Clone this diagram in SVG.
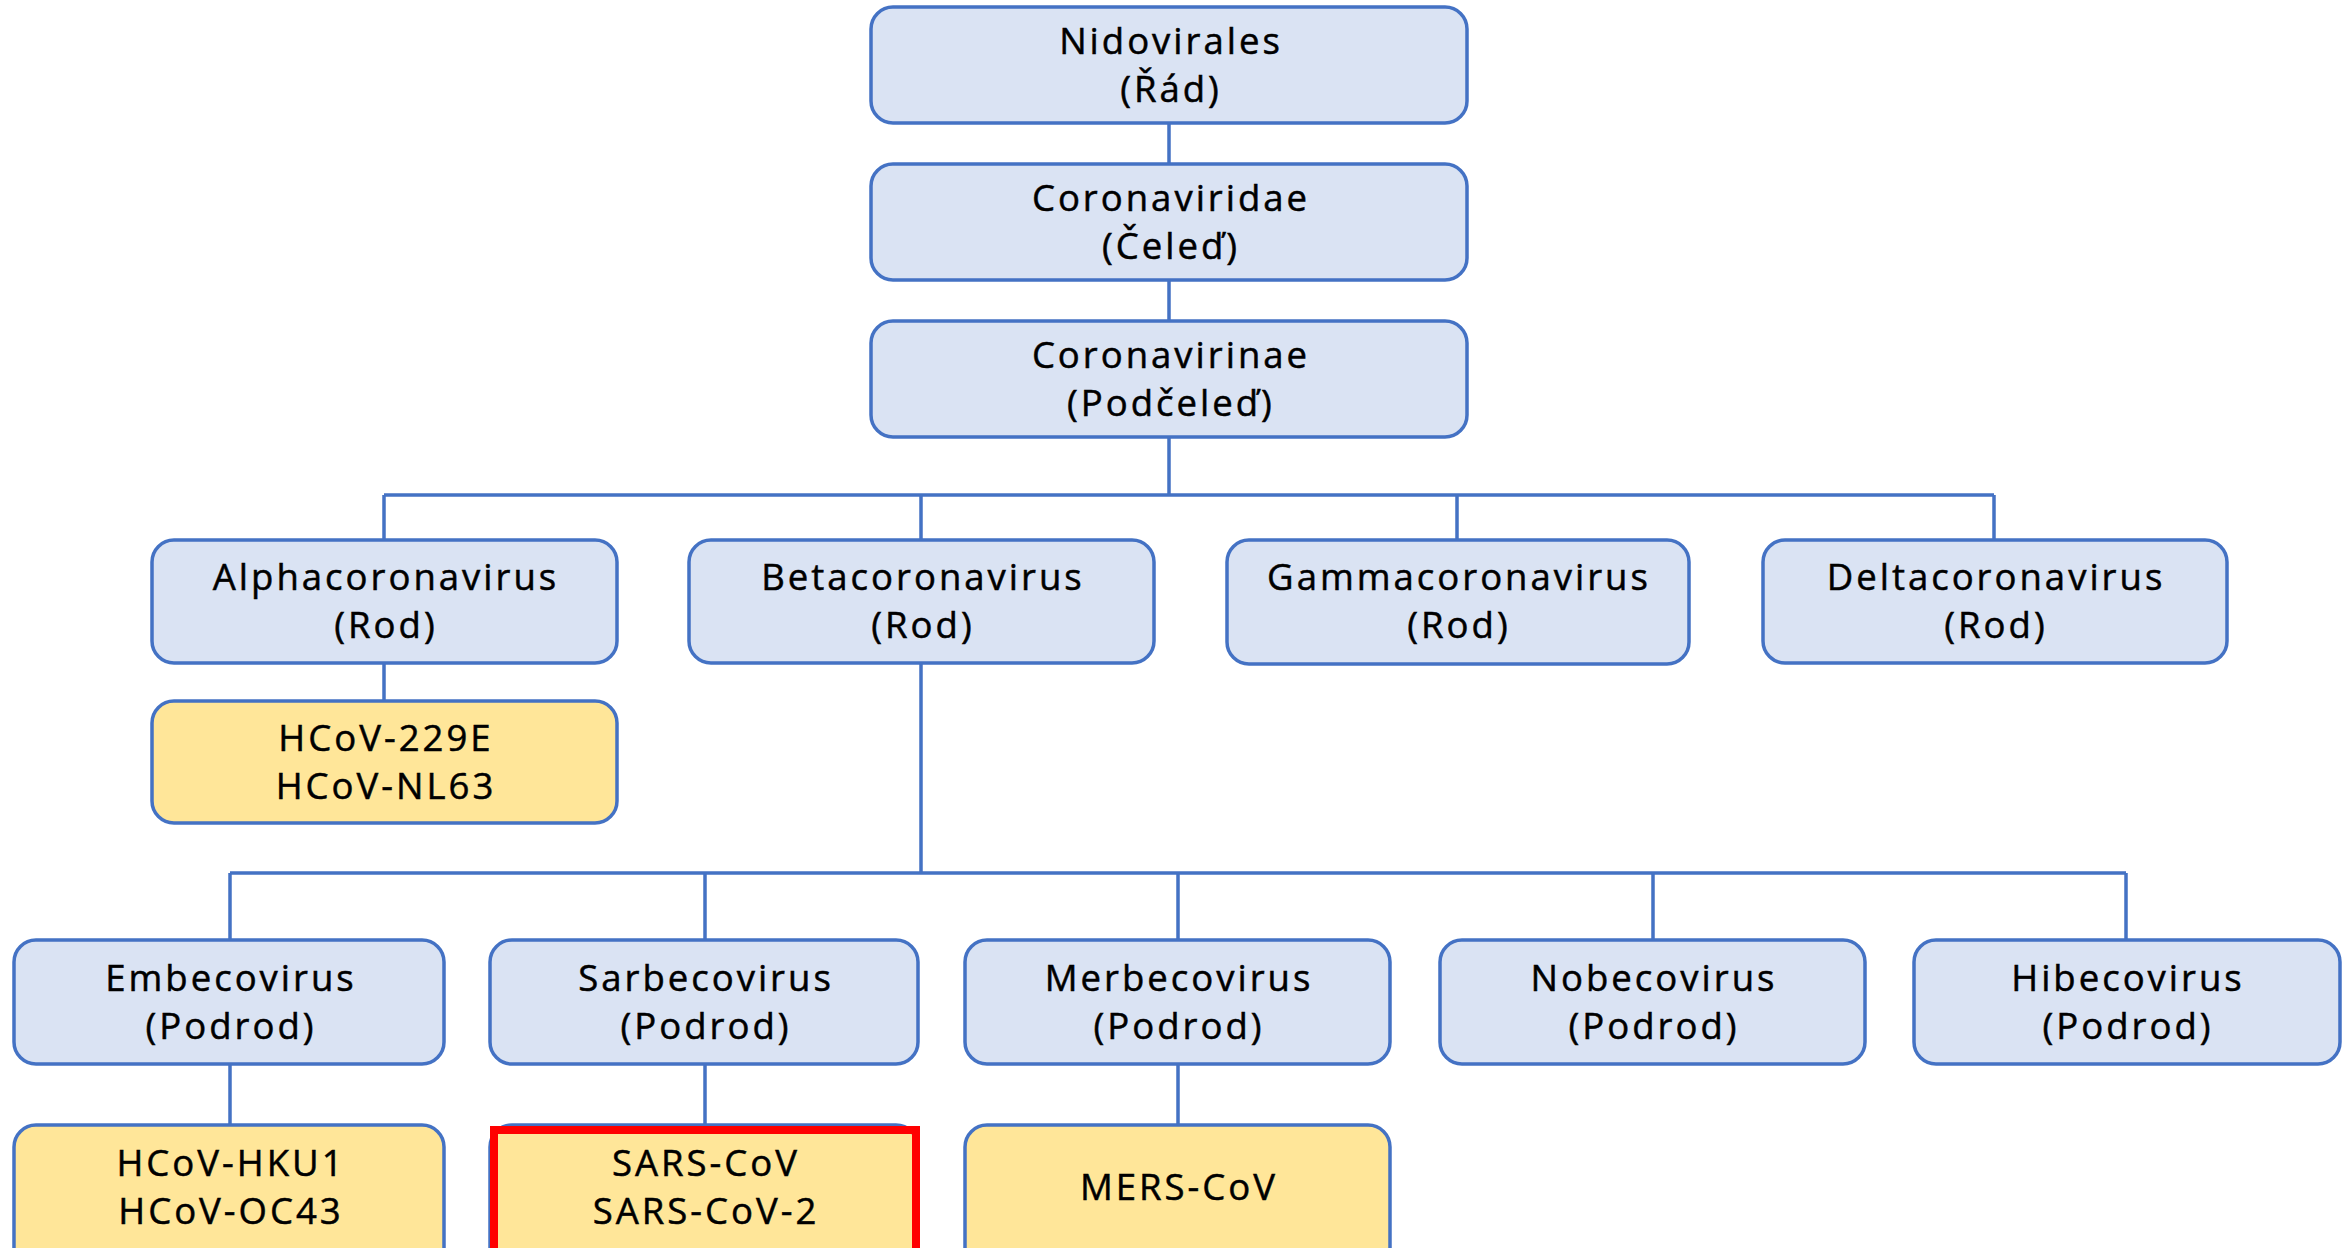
<svg xmlns="http://www.w3.org/2000/svg" width="2351" height="1248" viewBox="0 0 2351 1248">
<style>
.b{fill:#DAE3F3;stroke:#4472C4;stroke-width:3.5}
.y{fill:#FFE699;stroke:#4472C4;stroke-width:3.5}
.c{fill:none;stroke:#4472C4;stroke-width:3.5}
text{font-family:"Open Sans","DejaVu Sans",sans-serif;font-size:36.5px;letter-spacing:3px;text-anchor:middle;fill:#000;stroke:#000;stroke-width:0.5}
</style>
<rect width="2351" height="1248" fill="#fff"/>
<g id="connectors">
<path class="c" d="M1169 123V164M1169 280V321M1169 437V495M384 495H1994M384 495V540M921 495V540M1457 495V540M1994 495V540M384 663V701M921 663V873M230 873H2126M230 873V940M705 873V940M1178 873V940M1653 873V940M2126 873V940M230 1064V1125M705 1064V1125M1178 1064V1125"/>
</g>
<g id="nidovirales"><rect class="b" x="871" y="7" width="596" height="116" rx="22"/><text x="1171" y="54">Nidovirales</text><text x="1171" y="102">(Řád)</text></g>
<g id="coronaviridae"><rect class="b" x="871" y="164" width="596" height="116" rx="22"/><text x="1171" y="211">Coronaviridae</text><text x="1171" y="259">(Čeleď)</text></g>
<g id="coronavirinae"><rect class="b" x="871" y="321" width="596" height="116" rx="22"/><text x="1171" y="368">Coronavirinae</text><text x="1171" y="416">(Podčeleď)</text></g>
<g id="alpha"><rect class="b" x="152" y="540" width="465" height="123" rx="22"/><text x="386" y="590">Alphacoronavirus</text><text x="386" y="638">(Rod)</text></g>
<g id="beta"><rect class="b" x="689" y="540" width="465" height="123" rx="22"/><text x="923" y="590">Betacoronavirus</text><text x="923" y="638">(Rod)</text></g>
<g id="gamma"><rect class="b" x="1227" y="540" width="462" height="124" rx="22"/><text x="1459" y="590">Gammacoronavirus</text><text x="1459" y="638">(Rod)</text></g>
<g id="delta"><rect class="b" x="1763" y="540" width="464" height="123" rx="22"/><text x="1996" y="590">Deltacoronavirus</text><text x="1996" y="638">(Rod)</text></g>
<g id="alpha-species"><rect class="y" x="152" y="701" width="465" height="122" rx="22"/><text x="386" y="751">HCoV-229E</text><text x="386" y="799">HCoV-NL63</text></g>
<g id="embeco"><rect class="b" x="14" y="940" width="430" height="124" rx="22"/><text x="231" y="991">Embecovirus</text><text x="231" y="1039">(Podrod)</text></g>
<g id="sarbeco"><rect class="b" x="490" y="940" width="428" height="124" rx="22"/><text x="706" y="991">Sarbecovirus</text><text x="706" y="1039">(Podrod)</text></g>
<g id="merbeco"><rect class="b" x="965" y="940" width="425" height="124" rx="22"/><text x="1179" y="991">Merbecovirus</text><text x="1179" y="1039">(Podrod)</text></g>
<g id="nobeco"><rect class="b" x="1440" y="940" width="425" height="124" rx="22"/><text x="1654" y="991">Nobecovirus</text><text x="1654" y="1039">(Podrod)</text></g>
<g id="hibeco"><rect class="b" x="1914" y="940" width="426" height="124" rx="22"/><text x="2128" y="991">Hibecovirus</text><text x="2128" y="1039">(Podrod)</text></g>
<g id="embeco-species"><rect class="y" x="14" y="1125" width="430" height="150" rx="22"/><text x="231" y="1176">HCoV-HKU1</text><text x="231" y="1224">HCoV-OC43</text></g>
<g id="sarbeco-species"><rect class="y" x="490" y="1125" width="428" height="150" rx="22"/><rect x="494" y="1130" width="422" height="140" fill="none" stroke="#FF0000" stroke-width="8"/><text x="706" y="1176">SARS-CoV</text><text x="706" y="1224">SARS-CoV-2</text></g>
<g id="merbeco-species"><rect class="y" x="965" y="1125" width="425" height="150" rx="22"/><text x="1179" y="1200">MERS-CoV</text></g>
</svg>
